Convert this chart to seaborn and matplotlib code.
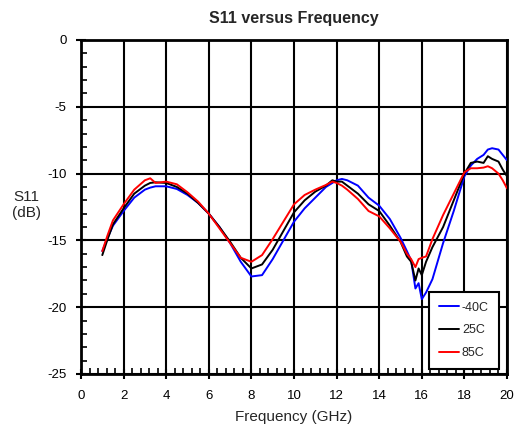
import matplotlib
matplotlib.use("Agg")
import matplotlib.pyplot as plt
from matplotlib.ticker import MultipleLocator
from matplotlib.lines import Line2D
import numpy as np
import pandas as pd
import seaborn as sns

freq = [1, 1.25, 1.5, 2, 2.5, 3, 3.25, 3.5, 4, 4.5, 5, 5.5, 6, 6.5, 7, 7.5, 8, 8.5,
        9, 9.5, 10, 10.5, 11, 11.5, 11.8, 12, 12.25, 12.5, 13, 13.5, 14, 14.5, 15,
        15.3, 15.5, 15.7, 15.85, 16, 16.2, 16.5, 17, 17.5, 18, 18.3, 18.6, 18.9,
        19.1, 19.3, 19.6, 19.8, 20]

s11_m40 = [-15.8, -14.8, -13.9, -12.8, -11.8, -11.2, -11.05, -10.95, -10.95, -11.15,
           -11.6, -12.2, -13.0, -14.0, -15.2, -16.6, -17.7, -17.6, -16.4, -15.0,
           -13.6, -12.6, -11.8, -11.0, -10.7, -10.5, -10.4, -10.5, -10.9, -11.8,
           -12.4, -13.4, -14.8, -15.8, -16.5, -18.6, -18.2, -19.4, -18.9, -17.9,
           -15.2, -12.8, -10.2, -9.4, -8.9, -8.6, -8.2, -8.1, -8.2, -8.6, -9.0]

s11_25 = [-16.1, -14.9, -13.8, -12.6, -11.5, -10.9, -10.7, -10.65, -10.7, -11.0,
          -11.5, -12.2, -13.0, -14.0, -15.1, -16.3, -17.1, -16.8, -15.7, -14.3,
          -12.9, -12.0, -11.35, -10.9, -10.5, -10.6, -10.6, -10.9, -11.5, -12.3,
          -12.8, -13.9, -15.1, -16.2, -16.6, -18.0, -17.1, -17.6, -16.6, -15.5,
          -14.0, -12.0, -10.0, -9.2, -9.1, -9.2, -8.7, -8.9, -9.1, -9.7, -10.2]

s11_85 = [-15.8, -14.6, -13.5, -12.3, -11.2, -10.5, -10.35, -10.7, -10.6, -10.8,
          -11.4, -12.1, -13.0, -14.1, -15.2, -16.3, -16.6, -16.1, -14.9, -13.6,
          -12.3, -11.6, -11.2, -10.85, -10.6, -10.7, -10.9, -11.2, -11.9, -12.8,
          -13.2, -14.1, -15.1, -16.0, -16.4, -17.0, -16.4, -16.3, -16.2, -14.9,
          -13.1, -11.5, -9.9, -9.6, -9.6, -9.55, -9.45, -9.6, -10.0, -10.5, -11.1]

temps = ["-40C", "25C", "85C"]
colors = ["#0000ff", "#000000", "#ff0000"]

df = pd.concat([
    pd.DataFrame({"Frequency": freq, "S11": vals, "Temp": t})
    for t, vals in zip(temps, [s11_m40, s11_25, s11_85])
], ignore_index=True)

sns.set_style("white")
plt.rcParams["font.family"] = ["Liberation Sans", "DejaVu Sans"]
plt.rcParams["axes.unicode_minus"] = False

fig = plt.figure(figsize=(5.14, 4.28), dpi=100)
ax = fig.add_axes([81 / 514, 1 - 374 / 428, 426 / 514, 334 / 428])

sns.lineplot(data=df, x="Frequency", y="S11", hue="Temp", hue_order=temps,
             palette=colors, sort=False, linewidth=1.4, ax=ax, legend=False,
             zorder=3)

ax.set_xlim(0, 20)
ax.set_ylim(-25, 0)
ax.xaxis.set_major_locator(MultipleLocator(2))
ax.xaxis.set_minor_locator(MultipleLocator(0.4))
ax.yaxis.set_major_locator(MultipleLocator(5))
ax.yaxis.set_minor_locator(MultipleLocator(1))
ax.grid(True, which="major", color="black", linewidth=1.5)
ax.set_axisbelow(True)
for sp in ax.spines.values():
    sp.set_color("black")
    sp.set_linewidth(2)
ax.tick_params(which="major", direction="inout", length=7, width=1.5,
               labelsize=9.5, colors="black")
ax.tick_params(axis="x", which="major", pad=8)
ax.tick_params(axis="y", which="major", pad=7)
ax.tick_params(which="minor", direction="in", length=4, width=1.2,
               colors="black")
ax.tick_params(axis="x", which="both", bottom=True)
ax.tick_params(axis="y", which="both", left=True)

ax.set_xlabel("Frequency (GHz)", fontsize=11, labelpad=6)
ax.set_ylabel("S11\n(dB)", fontsize=11, rotation=0, ha="center", va="center",
              labelpad=0)
ax.yaxis.set_label_coords(-0.129, 0.505)
ax.set_title("S11 versus Frequency", fontsize=11.5, fontweight="bold", pad=12)

handles = [Line2D([0], [0], color=c, linewidth=1.4) for c in colors]
leg = ax.legend(handles, temps, loc="lower right", bbox_to_anchor=(0.981, 0.015),
                borderaxespad=0, fontsize=9, handlelength=1.6, handletextpad=0.2,
                labelspacing=0.85, borderpad=0.8, fancybox=False, framealpha=1,
                edgecolor="black")
leg.get_frame().set_linewidth(1.5)
leg.set_zorder(5)

fig.savefig("out.png", dpi=100)
